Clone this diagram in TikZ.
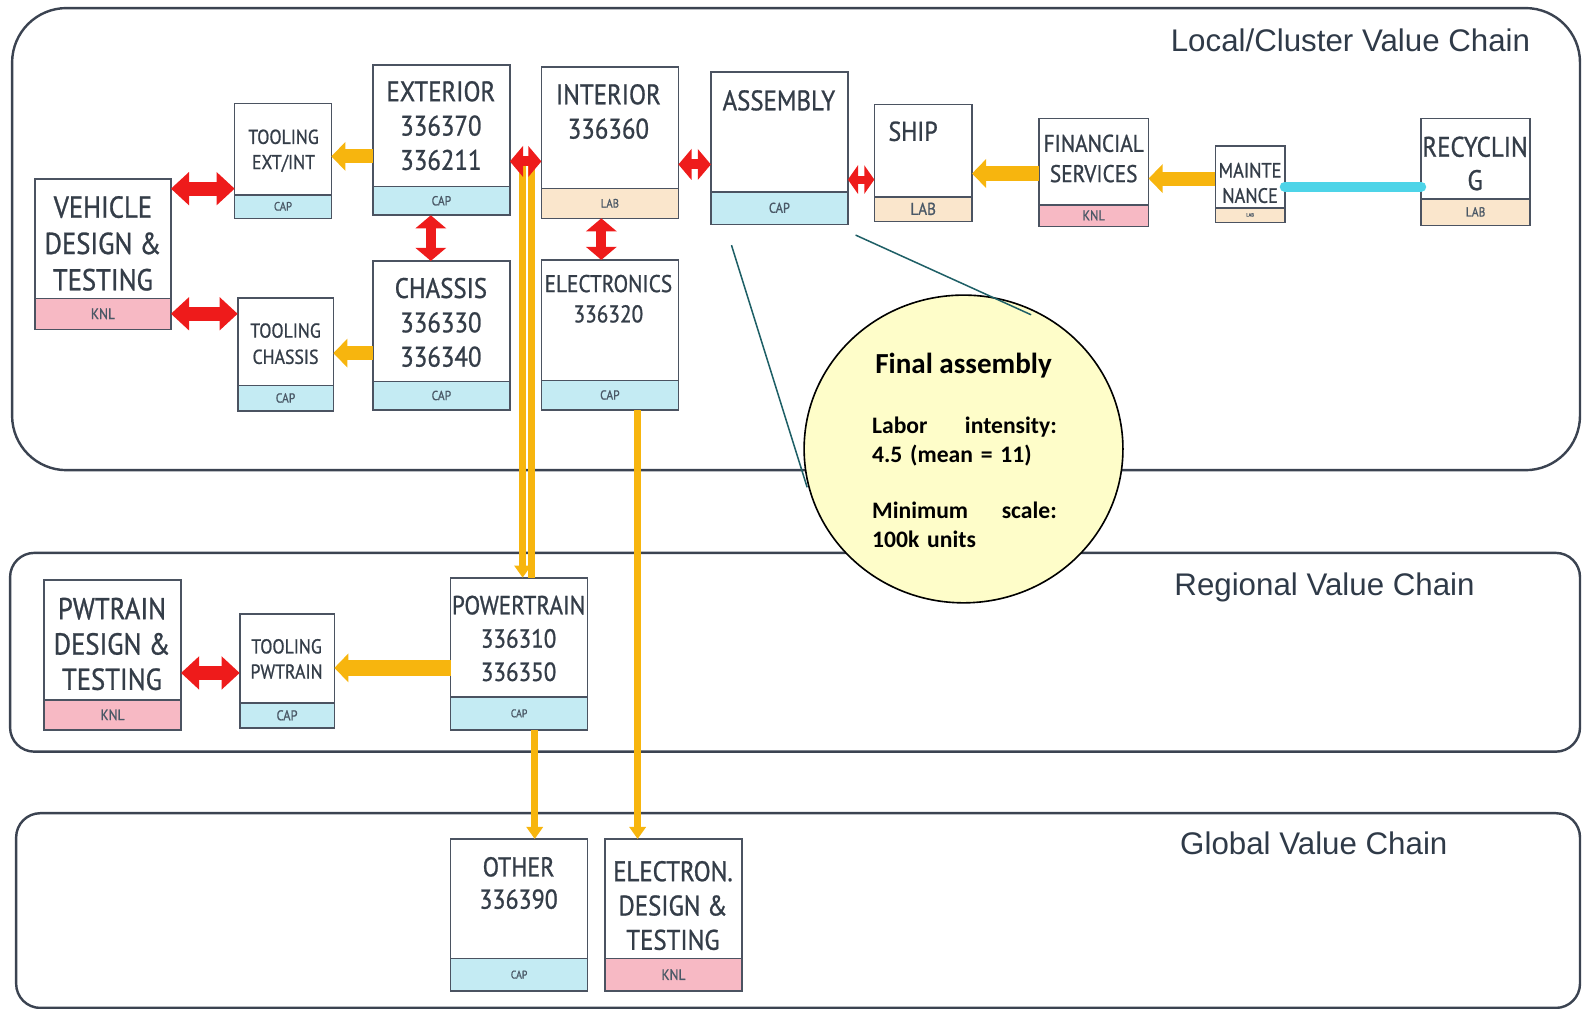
\documentclass[tikz,border=0pt]{standalone}
\usepackage{fontspec}
\setmainfont{Liberation Sans}
\newfontfamily\bxf[FakeStretch=0.88,FakeBold=0.9]{PT Sans}
\newfontfamily\clf{Carlito}
\usetikzlibrary{arrows.meta,fit,shapes.geometric}

\definecolor{frm}{HTML}{3B4351}
\definecolor{boxln}{HTML}{4B5361}
\definecolor{txt}{HTML}{343D48}
\definecolor{ttl}{HTML}{2F3A48}
\definecolor{capc}{HTML}{C4EBF3}
\definecolor{labc}{HTML}{FAE6CC}
\definecolor{knlc}{HTML}{F7B9C4}
\definecolor{striptxt}{HTML}{4A5866}
\definecolor{arrred}{HTML}{EE1B1B}
\definecolor{arrorg}{HTML}{F7B50E}
\definecolor{arrcyan}{HTML}{4DD4E8}
\definecolor{bubfill}{HTML}{FEFDC9}
\definecolor{calloutc}{HTML}{1E5F66}

\newcommand\bsz[2]{\fontsize{#1}{#2}\selectfont}

% one stage of the chain: white box with a coloured factor strip at the bottom
% #1 name, #2 left, #3 top, #4 right, #5 strip top, #6 bottom, #7 strip colour, #8 strip label, #9 label size
\newcommand\stagebox[9]{%
  \node[fill=white,inner sep=0pt,fit={(#2,#3)(#4,#6)}] (#1) {};
  \fill[#7] (#2,#5) rectangle (#4,#6);
  \draw[boxline] (#1.south west) rectangle (#1.north east);
  \draw[boxline] (#2,#5) -- (#4,#5);
  \node[striptext,font=\bxf\bsz{#9}{#9}] (#1-s) at ({(#2+#4)/2},{(#5+#6)/2}) {#8};
}

\begin{document}
\begin{tikzpicture}[x=0.5pt,y=-0.5pt,
  chainframe/.style={draw=frm,line width=1.2pt},
  chaintitle/.style={anchor=base east,inner sep=0pt,text=ttl,font=\bsz{15.5}{18}},
  boxline/.style={draw=boxln,line width=0.8pt},
  boxtext/.style={anchor=north,inner sep=0pt,align=center,text=txt},
  striptext/.style={inner sep=0pt,text=striptxt},
  redtwo/.style={draw=arrred,line width=7pt,{Triangle[width=16pt,length=9pt]}-{Triangle[width=16pt,length=9pt]}},
  redshort/.style={draw=arrred,line width=5pt,{Triangle[width=15pt,length=6.5pt]}-{Triangle[width=15pt,length=6.5pt]}},
  redtiny/.style={draw=arrred,line width=4pt,{Triangle[width=14pt,length=5pt]}-{Triangle[width=14pt,length=5pt]}},
  orgblock/.style={draw=arrorg,line width=7pt,-{Triangle[width=14pt,length=7pt]}},
  orgline/.style={draw=arrorg,line width=3.5pt,-{Triangle[width=8pt,length=6pt]}},
  orgplain/.style={draw=arrorg,line width=3.5pt},
  cyanline/.style={draw=arrcyan,line width=5pt,line cap=round},
  callout/.style={draw=calloutc,line width=0.75pt},
]
\useasboundingbox (0,0) rectangle (1568,1000);

% value chain levels
\draw[chainframe,rounded corners=27pt] (12,8) rectangle (1566,466);
\draw[chainframe,rounded corners=12pt] (10,548) rectangle (1566,745);
\draw[chainframe,rounded corners=12pt] (16,806) rectangle (1566,999);
\node[chaintitle] (tlocal) at (1517,51) {Local/Cluster Value Chain};
\node[chaintitle] (tregion) at (1462,590) {Regional Value Chain};
\node[chaintitle] (tglobal) at (1435,847) {Global Value Chain};

% local / cluster stages
\stagebox{te}{233}{103}{328}{193}{216}{capc}{CAP}{6}
\stagebox{ext}{370}{65}{505}{185}{213}{capc}{CAP}{6.5}
\stagebox{int}{537}{67}{672}{187}{216}{labc}{LAB}{6}
\stagebox{asm}{705}{72}{840}{190}{222}{capc}{CAP}{7}
\stagebox{ship}{867}{104}{963}{195}{219}{labc}{LAB}{8.5}
\stagebox{fin}{1030}{118}{1138}{203}{224}{knlc}{KNL}{7}
\stagebox{mnt}{1205}{145}{1273}{206}{220}{labc}{LAB}{2.5}
\stagebox{rec}{1409}{118}{1516}{197}{223}{labc}{LAB}{6.5}
\stagebox{vd}{35}{178}{169}{296}{326}{knlc}{KNL}{7.5}
\stagebox{tc}{236}{296}{330}{382}{407}{capc}{CAP}{6.5}
\stagebox{chs}{370}{259}{505}{378}{406}{capc}{CAP}{6.5}
\stagebox{ele}{537}{258}{672}{377}{406}{capc}{CAP}{6.5}
% regional stages
\stagebox{pd}{44}{575}{179}{694}{723}{knlc}{KNL}{7.5}
\stagebox{tp}{238}{609}{331}{697}{721}{capc}{CAP}{7}
\stagebox{pwt}{447}{573}{582}{691}{723}{capc}{CAP}{5.5}
% global stages
\stagebox{oth}{447}{832}{582}{950}{982}{capc}{CAP}{5.5}
\stagebox{eld}{600}{832}{735}{950}{982}{knlc}{KNL}{7.5}

% stage names
\node[boxtext,font=\bxf\bsz{10}{12.5}] (te-t) at (281,128) {TOOLING\\EXT/INT};
\node[boxtext,font=\bxf\bsz{14}{17}] (ext-t) at (437,80) {EXTERIOR\\336370\\336211};
\node[boxtext,font=\bxf\bsz{14}{17}] (int-t) at (603,83) {INTERIOR\\336360};
\node[boxtext,font=\bxf\bsz{14}{17}] (asm-t) at (772,89) {ASSEMBLY};
\node[boxtext,font=\bxf\bsz{13.5}{16}] (ship-t) at (905,120) {SHIP};
\node[boxtext,font=\bxf\bsz{12}{15}] (fin-t) at (1084,133) {FINANCIAL\\SERVICES};
\node[boxtext,font=\bxf\bsz{10.3}{12.5}] (mnt-t) at (1239,161) {MAINTE\\NANCE};
\node[boxtext,font=\bxf\bsz{14}{16.5}] (rec-t) at (1462,135) {RECYCLIN\\G};
\node[boxtext,font=\bxf\bsz{15}{18}] (vd-t) at (102,194) {VEHICLE\\DESIGN \&\\TESTING};
\node[boxtext,font=\bxf\bsz{10}{13}] (tc-t) at (283,320) {TOOLING\\CHASSIS};
\node[boxtext,font=\bxf\bsz{14}{17}] (chs-t) at (437,275) {CHASSIS\\336330\\336340};
\node[boxtext,font=\bxf\bsz{12}{15}] (ele-t) at (603,272) {ELECTRONICS\\336320};
\node[boxtext,font=\bxf\bsz{15}{17.5}] (pd-t) at (111,592) {PWTRAIN\\DESIGN \&\\TESTING};
\node[boxtext,font=\bxf\bsz{10}{12.5}] (tp-t) at (284,633) {TOOLING\\PWTRAIN};
\node[boxtext,font=\bxf\bsz{13}{16.5}] (pwt-t) at (514,590) {POWERTRAIN\\336310\\336350};
\node[boxtext,font=\bxf\bsz{13.5}{16}] (oth-t) at (514,849) {OTHER\\336390};
\node[boxtext,font=\bxf\bsz{14}{17}] (eld-t) at (667,853) {ELECTRON.\\DESIGN \&\\TESTING};

% flows between levels
\coordinate (splitA) at (518,160);
\coordinate (splitB) at (527,160);
\draw[orgline] (splitA) -- (splitA |- pwt.north);
\draw[orgplain] (splitB) -- (splitB |- pwt.north);
\draw[orgline] (632,0 |- ele.south) -- (632,0 |- eld.north);
\draw[orgline] (530,0 |- pwt.south) -- (530,0 |- oth.north);

% supply flows
\draw[orgblock] (ext.west |- 0,155) -- (te.east |- 0,155);
\draw[orgblock] (chs.west |- 0,350) -- (tc.east |- 0,350);
\draw[orgblock,line width=8pt] (pwt.west |- 0,662) -- (tp.east |- 0,662);
\draw[orgblock] (fin.west |- 0,172) -- (ship.east |- 0,172);
\draw[orgblock] (mnt.west |- 0,177) -- (fin.east |- 0,177);
\draw[cyanline] (mnt.east |- 0,185) -- (rec.west |- 0,185);

% two-way links
\draw[redtwo] (vd.east |- 0,187) -- (te.west |- 0,187);
\draw[redtwo] (vd.east |- 0,311) -- (tc.west |- 0,311);
\draw[redtwo] (pd.east |- 0,667) -- (tp.west |- 0,667);
\draw[redshort] (427,0 |- ext.south) -- (427,0 |- chs.north);
\draw[redshort] (596,0 |- int.south) -- (596,0 |- ele.north);
\draw[redshort] (ext.east |- 0,160) -- (int.west |- 0,160);
\draw[redshort] (int.east |- 0,163) -- (asm.west |- 0,163);
\draw[redtiny] (asm.east |- 0,178) -- (ship.west |- 0,178);

% final assembly note
\node[ellipse,draw=black,line width=0.8pt,fill=bubfill,inner sep=0pt,
      minimum width=158pt,minimum height=152.5pt] (bubble) at (955,445) {};
\node[inner sep=0pt,font=\clf\bfseries\bsz{14.4}{17}] (bubble-t) at (955,362) {Final assembly};
\node[anchor=north west,inner sep=0pt,text width=91.5pt,align=left,
      font=\clf\bfseries\bsz{11.7}{14.5}] (bubble-b) at (864,413)
  {Labor\hfill intensity:\\4.5 (mean = 11)\\[13pt]Minimum\hfill scale:\\100k units};
\coordinate (c1a) at (725,243);
\coordinate (c1b) at (800,483);
\coordinate (c2a) at (848,233);
\coordinate (c2b) at (1022,312);
\draw[callout] (c1a) -- (c1b);
\draw[callout] (c2a) -- (c2b);
\end{tikzpicture}
\end{document}
